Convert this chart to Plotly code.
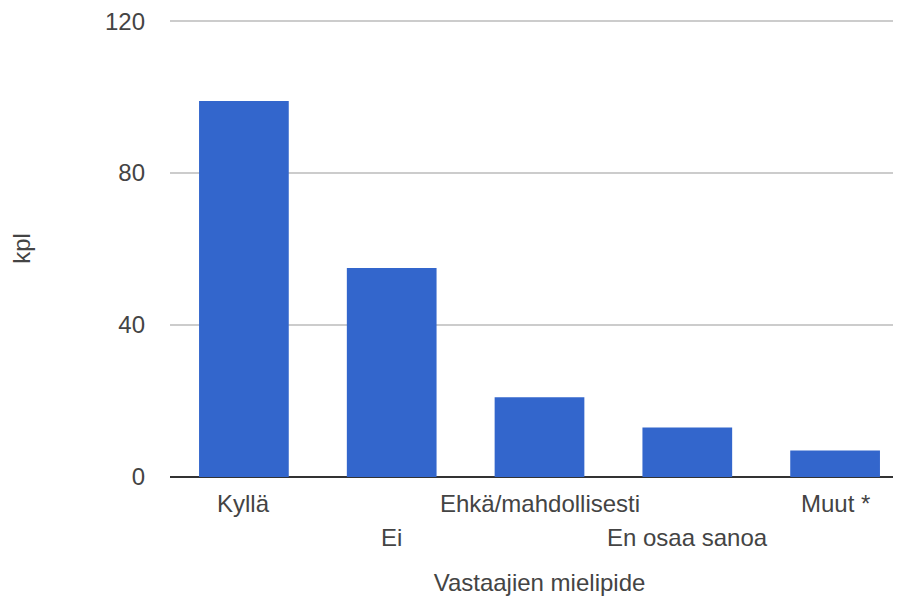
import plotly.graph_objects as go

categories = ["Kyllä", "Ei", "Ehkä/mahdollisesti", "En osaa sanoa", "Muut *"]
counts = [99, 55, 21, 13, 7]
label_rows = [0, 1, 0, 1, 0]  # staggered tick labels, as in the original

y_ticks = [0, 40, 80, 120]

FONT = "Liberation Sans, Arial, sans-serif"
TEXT = "#444444"
SIZE = 24

fig = go.Figure()
fig.add_trace(go.Bar(x=list(range(len(categories))), y=counts,
                     marker=dict(color="#3366cc", line=dict(width=0))))

# category labels drawn as annotations so they can alternate rows
for i, (name, row) in enumerate(zip(categories, label_rows)):
    fig.add_annotation(x=i, y=0, xref="x", yref="y", text=name, showarrow=False,
                       yanchor="middle", yshift=-26 - 34 * row,
                       font=dict(family=FONT, size=SIZE, color=TEXT))

# page has an 8px body margin; the plot runs past the right edge like the original
fig.update_layout(
    width=901, height=588,
    margin=dict(l=162, r=0, t=12, b=119),
    paper_bgcolor="white", plot_bgcolor="white",
    bargap=0.393, showlegend=False,
    font=dict(family=FONT, size=SIZE, color=TEXT),
)
fig.update_xaxes(range=[-0.5, 4.5], showticklabels=False, showgrid=False, zeroline=False,
                 showline=False, ticks="",
                 title=dict(text="Vastaajien mielipide", standoff=98,
                            font=dict(family=FONT, size=SIZE, color=TEXT)))
fig.update_yaxes(range=[0, 120.3], tickvals=y_ticks, showgrid=True, gridcolor="#cccccc", gridwidth=1.5,
                 zeroline=True, zerolinecolor="#333333", zerolinewidth=2, showline=False, ticks="",
                 ticklabelstandoff=24, ticklabeloverflow="allow",
                 tickfont=dict(family=FONT, size=SIZE, color=TEXT),
                 title=dict(text="kpl", standoff=70, font=dict(family=FONT, size=SIZE, color=TEXT)))

fig.write_html("out.html")
